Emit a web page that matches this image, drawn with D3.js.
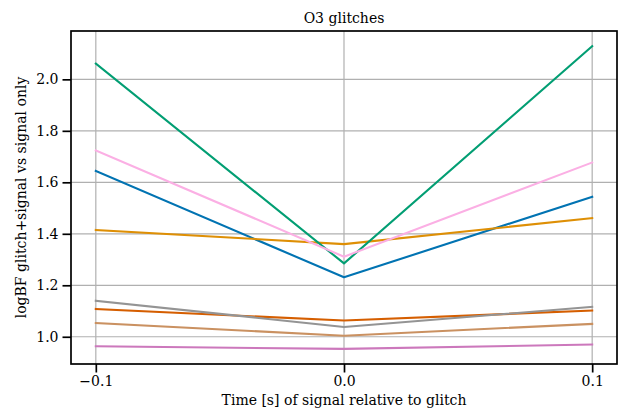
<!DOCTYPE html>
<html>
<head>
<meta charset="utf-8">
<script src="https://cdn.jsdelivr.net/npm/d3@7"></script>
<style>
  html, body { margin: 0; padding: 0; background: #fff; }
  svg { display: block; }
  text { font-family: "DejaVu Serif", serif; fill: #000; }
</style>
</head>
<body>
<div id="chart"></div>
<script>
// Injection times (s) relative to the glitch
const times = [-0.1, 0.0, 0.1];

// logBF (glitch+signal vs signal only), one series per glitch
const seriesBlue      = [1.644, 1.231, 1.544];
const seriesOrange    = [1.415, 1.360, 1.461];
const seriesGreen     = [2.061, 1.285, 2.129];
const seriesVermilion = [1.108, 1.063, 1.102];
const seriesMauve     = [0.963, 0.953, 0.970];
const seriesTan       = [1.053, 1.004, 1.050];
const seriesPink      = [1.724, 1.311, 1.677];
const seriesGray      = [1.140, 1.038, 1.116];

const xTicks = [-0.1, 0.0, 0.1];
const yTicks = [1.0, 1.2, 1.4, 1.6, 1.8, 2.0];

const series = [
  { values: seriesBlue,      color: "#0173b2" },
  { values: seriesOrange,    color: "#de8f05" },
  { values: seriesGreen,     color: "#029e73" },
  { values: seriesVermilion, color: "#d55e00" },
  { values: seriesMauve,     color: "#cc78bc" },
  { values: seriesTan,       color: "#ca9161" },
  { values: seriesPink,      color: "#fbafe4" },
  { values: seriesGray,      color: "#949494" }
];

const W = 620, H = 411;
const margin = { left: 71, right: 3, top: 31, bottom: 47 };
const iw = W - margin.left - margin.right;
const ih = H - margin.top - margin.bottom;

// 5% padding around the data range on both axes
const allY = series.flatMap(s => s.values);
const yMin = d3.min(allY), yMax = d3.max(allY);
const yPad = (yMax - yMin) * 0.05;
const xPad = (d3.max(times) - d3.min(times)) * 0.05;

const x = d3.scaleLinear()
  .domain([d3.min(times) - xPad, d3.max(times) + xPad])
  .range([0, iw]);
const y = d3.scaleLinear()
  .domain([yMin - yPad, yMax + yPad])
  .range([ih, 0]);

const svg = d3.select("#chart").append("svg")
  .attr("width", W).attr("height", H);
const g = svg.append("g")
  .attr("transform", `translate(${margin.left},${margin.top})`);

// grid
g.append("g").selectAll("line").data(yTicks).join("line")
  .attr("x1", 0).attr("x2", iw)
  .attr("y1", d => y(d)).attr("y2", d => y(d))
  .attr("stroke", "#b0b0b0").attr("stroke-width", 1.2);
g.append("g").selectAll("line").data(xTicks).join("line")
  .attr("y1", 0).attr("y2", ih)
  .attr("x1", d => x(d)).attr("x2", d => x(d))
  .attr("stroke", "#b0b0b0").attr("stroke-width", 1.2);

// series lines
const line = d3.line()
  .x((d, i) => x(times[i]))
  .y(d => y(d));
g.append("g").selectAll("path").data(series).join("path")
  .attr("d", d => line(d.values))
  .attr("fill", "none")
  .attr("stroke", d => d.color)
  .attr("stroke-width", 2.1)
  .attr("stroke-linejoin", "round")
  .attr("stroke-linecap", "square");

// frame
g.append("rect")
  .attr("x", 0).attr("y", 0).attr("width", iw).attr("height", ih)
  .attr("fill", "none").attr("stroke", "#000").attr("stroke-width", 1.7);

const fmt = d => d3.format(".1f")(d).replace("-", "\u2212");

// axes
const xAxis = g.append("g")
  .attr("transform", `translate(0,${ih})`)
  .call(d3.axisBottom(x).tickValues(xTicks).tickFormat(fmt).tickSize(8.5).tickPadding(4));
const yAxis = g.append("g")
  .call(d3.axisLeft(y).tickValues(yTicks).tickFormat(fmt).tickSize(8.5).tickPadding(4));
[xAxis, yAxis].forEach(a => {
  a.select(".domain").remove();
  a.selectAll(".tick line").attr("stroke", "#000").attr("stroke-width", 1.7);
  a.selectAll(".tick text")
    .style("font-family", '"DejaVu Serif", serif')
    .style("font-size", "14px")
    .attr("fill", "#000");
});

// labels
svg.append("text")
  .attr("x", margin.left + iw / 2).attr("y", 23)
  .attr("text-anchor", "middle")
  .style("font-size", "14px")
  .text("O3 glitches");
svg.append("text")
  .attr("x", margin.left + iw / 2).attr("y", 405)
  .attr("text-anchor", "middle")
  .style("font-size", "14px")
  .text("Time [s] of signal relative to glitch");
svg.append("text")
  .attr("transform", `translate(26,${margin.top + ih / 2}) rotate(-90)`)
  .attr("text-anchor", "middle")
  .style("font-size", "14px")
  .text("logBF glitch+signal vs signal only");
</script>
</body>
</html>
